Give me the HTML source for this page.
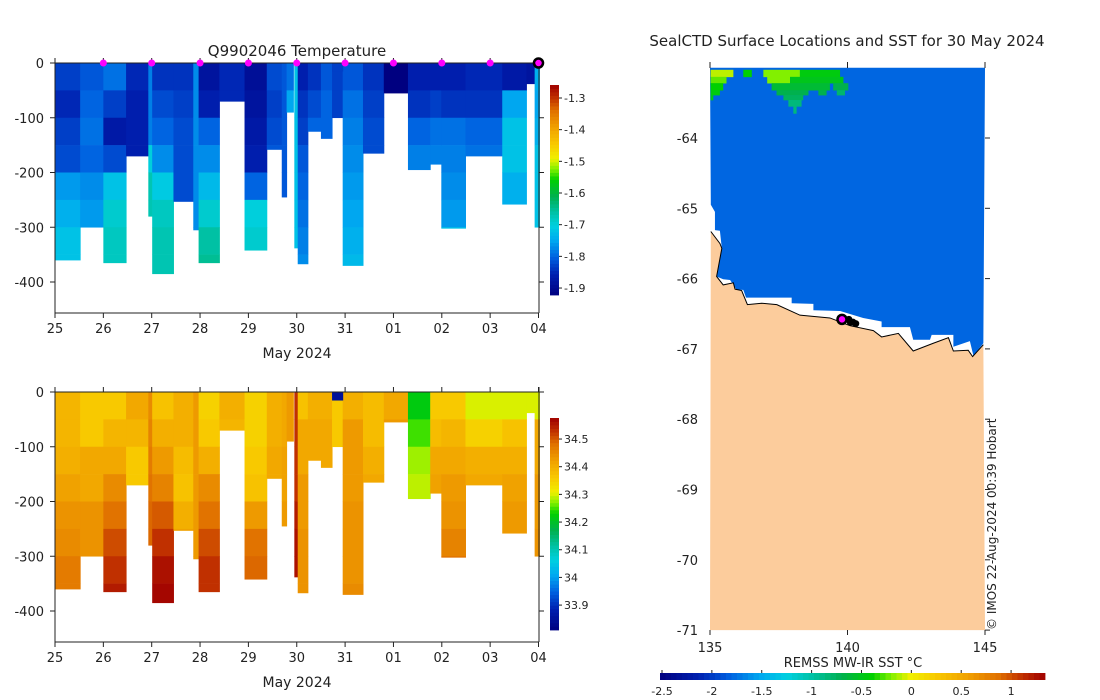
<!DOCTYPE html>
<html><head><meta charset="utf-8"><style>
body{margin:0;background:#fff}
svg{display:block;font-family:"DejaVu Sans","Liberation Sans",sans-serif;fill:#222}
text{fill:#222}
</style></head><body>
<svg id="c" width="1100" height="700" viewBox="0 0 1100 700" xmlns="http://www.w3.org/2000/svg"></svg>
<script>
// ---------- data ----------
const dayLabels=['25','26','27','28','29','30','31','01','02','03','04'];
const depthTicks=[0,-100,-200,-300,-400];
const profStart=[0,0.52,1.0,1.47,1.93,2.01,2.45,2.86,2.97,3.40,3.92,4.38,4.69,4.79,4.95,5.02,5.23,5.50,5.73,5.95,6.37,6.80,7.30,7.76,7.99,8.49,9.25,9.75,9.92,5.73];
const profEnd=[0.52,1.0,1.47,1.93,2.01,2.45,2.86,2.97,3.40,3.92,4.38,4.69,4.79,4.93,5.02,5.23,5.50,5.73,5.95,6.37,6.80,7.30,7.76,7.99,8.49,9.25,9.75,9.92,10.02,5.95];
const profDepth=[360,300,365,170,280,385,253,305,365,70,342,158,245,90,338,367,125,138,100,370,165,55,195,185,302,170,258,38,300,15];
const tempLayers=[
[-1.83,-1.85,-1.83,-1.82,-1.76,-1.74,-1.72,-1.72],
[-1.81,-1.80,-1.79,-1.80,-1.77,-1.76],
[-1.79,-1.83,-1.87,-1.82,-1.72,-1.69,-1.68,-1.68],
[-1.85,-1.86,-1.86,-1.86],
[-1.78,-1.78,-1.78,-1.70,-1.67,-1.67],
[-1.84,-1.82,-1.80,-1.77,-1.71,-1.68,-1.67,-1.67],
[-1.84,-1.83,-1.82,-1.82,-1.82,-1.82],
[-1.77,-1.77,-1.77,-1.77,-1.77,-1.77,-1.77],
[-1.88,-1.86,-1.80,-1.77,-1.73,-1.69,-1.66,-1.65],
[-1.85,-1.85],
[-1.89,-1.88,-1.87,-1.86,-1.80,-1.70,-1.69],
[-1.82,-1.83,-1.82,-1.81],
[-1.81,-1.81,-1.81,-1.81,-1.81],
[-1.79,-1.75],
[-1.72,-1.72,-1.72,-1.72,-1.72,-1.72,-1.72],
[-1.86,-1.84,-1.83,-1.81,-1.80,-1.79,-1.78,-1.77],
[-1.84,-1.82,-1.80],
[-1.81,-1.80,-1.80],
[-1.83,-1.83],
[-1.81,-1.79,-1.78,-1.77,-1.76,-1.75,-1.74,-1.73],
[-1.84,-1.83,-1.82,-1.82],
[-1.93,-1.93],
[-1.86,-1.84,-1.80,-1.78],
[-1.86,-1.83,-1.79,-1.78],
[-1.86,-1.84,-1.79,-1.78,-1.77,-1.76,-1.72],
[-1.85,-1.84,-1.80,-1.79],
[-1.87,-1.75,-1.72,-1.72,-1.74,-1.74],
[-1.88],
[-1.74,-1.75,-1.74,-1.72,-1.72,-1.72],
[-1.83]];
const salLayers=[
[34.39,34.39,34.40,34.42,34.44,34.45,34.47,34.47],
[34.36,34.36,34.41,34.41,34.44,34.44],
[34.36,34.39,34.41,34.45,34.48,34.51,34.53,34.55],
[34.41,34.39,34.36,34.36],
[34.45,34.46,34.47,34.48,34.49,34.49],
[34.37,34.40,34.43,34.46,34.50,34.53,34.56,34.57],
[34.40,34.40,34.38,34.37,34.40,34.42],
[34.43,34.43,34.43,34.43,34.43,34.43,34.43],
[34.35,34.36,34.40,34.45,34.48,34.51,34.53,34.53],
[34.40,34.39],
[34.35,34.35,34.36,34.37,34.43,34.48,34.49],
[34.40,34.40,34.41,34.41],
[34.41,34.41,34.42,34.42,34.43],
[34.43,34.43],
[34.53,34.53,34.53,34.53,34.55,34.56,34.56],
[34.37,34.41,34.41,34.43,34.43,34.44,34.44,34.44],
[34.40,34.41,34.41],
[34.40,34.41,34.41],
[34.36,34.36],
[34.40,34.43,34.43,34.43,34.44,34.44,34.44,34.45],
[34.38,34.38,34.40,34.41],
[34.41,34.43],
[34.22,34.25,34.28,34.29],
[34.36,34.38,34.41,34.42],
[34.36,34.39,34.41,34.43,34.44,34.46,34.48],
[34.30,34.35,34.40,34.41],
[34.30,34.37,34.40,34.42,34.43,34.43],
[34.30],
[34.30,34.41,34.41,34.43,34.43,34.44],
[33.85]];
const markerDays=[1,2,3,4,5,6,7,8,9];
const tempTicks=[-1.3,-1.4,-1.5,-1.6,-1.7,-1.8,-1.9];
const salTicks=[34.5,34.4,34.3,34.2,34.1,34.0,33.9];
const salTickLabels=['34.5','34.4','34.3','34.2','34.1','34','33.9'];
const sstTicks=[-2.5,-2,-1.5,-1,-0.5,0,0.5,1];
const sstTickLabels=['-2.5','-2','-1.5','-1','-0.5','0','0.5','1'];
const lonTicks=[135,140,145];
const latTicks=[-64,-65,-66,-67,-68,-69,-70,-71];
const oceanSST=-1.8;
const oceanLon=[135.03,135.18,135.18,135.36,135.43,135.24,135.48,135.73,135.97,136.21,136.31,137.97,137.97,138.76,138.76,139.73,140.57,141.24,141.24,142.27,142.39,143.0,143.06,143.85,143.85,144.45,144.58,144.94,145,135];
const oceanLat=[-64.95,-65.05,-65.31,-65.32,-65.57,-65.97,-66.01,-66.02,-66.16,-66.16,-66.27,-66.27,-66.35,-66.36,-66.45,-66.46,-66.56,-66.61,-66.69,-66.69,-66.87,-66.87,-66.80,-66.80,-66.97,-66.89,-67.10,-66.92,-63.0,-63.0];
const coastLon=[135.03,135.36,135.43,135.24,135.48,135.85,135.91,136.15,136.36,136.88,137.43,138.27,139.36,140.09,140.94,141.24,141.85,142.39,143.12,143.67,143.85,144.39,144.55,144.94];
const coastLat=[-65.33,-65.50,-65.57,-65.97,-66.09,-66.06,-66.15,-66.17,-66.37,-66.35,-66.37,-66.52,-66.56,-66.67,-66.74,-66.83,-66.78,-67.03,-66.92,-66.84,-67.03,-67.02,-67.11,-66.94];
const iceLon0=[135.02,136.21,136.94,138.27,135.02,137.08,137.91,135.02,137.24,139.48,135.02,137.42,138.94,139.61,135.02,137.67,137.85,138.03];
const iceLon1=[135.85,136.52,138.27,139.73,135.6,137.91,139.85,135.48,139.36,140.03,135.36,138.58,139.24,139.91,135.12,138.39,138.33,138.15];
const iceLat0=[-63.03,-63.03,-63.03,-63.03,-63.13,-63.13,-63.13,-63.22,-63.22,-63.22,-63.32,-63.32,-63.32,-63.32,-63.39,-63.39,-63.46,-63.55];
const iceLat1=[-63.13,-63.13,-63.13,-63.13,-63.22,-63.22,-63.22,-63.32,-63.32,-63.32,-63.39,-63.39,-63.39,-63.39,-63.46,-63.46,-63.55,-63.65];
const iceSST=[-0.1,-0.4,-0.2,-0.45,-0.25,-0.2,-0.5,-0.4,-0.6,-0.7,-0.45,-0.7,-0.7,-0.8,-0.5,-0.75,-0.85,-0.85];
const ctdLon=[140.05,140.2,140.1,140.3];
const ctdLat=[-66.58,-66.62,-66.62,-66.64];
const ctdLonLast=139.8, ctdLatLast=-66.58;

// ---------- helpers ----------
const NS='http://www.w3.org/2000/svg';
const svg=document.getElementById('c');
function mk(tag,attrs,parent){const e=document.createElementNS(NS,tag);for(const k in attrs)e.setAttribute(k,attrs[k]);(parent||svg).appendChild(e);return e;}
function txt(s,x,y,size,anchor,parent){const t=mk('text',{x:x,y:y,'font-size':size,'text-anchor':anchor||'middle'},parent);t.textContent=s;return t;}
const stops=[[0,[0,0,128]],[0.1,[0,32,176]],[0.18,[0,96,224]],[0.26,[0,168,240]],[0.33,[0,208,224]],[0.40,[0,192,160]],[0.47,[0,176,80]],[0.55,[0,208,0]],[0.60,[128,240,0]],[0.65,[240,240,0]],[0.72,[248,200,0]],[0.80,[240,160,0]],[0.88,[224,112,0]],[0.94,[192,48,0]],[1,[160,0,0]]];
function cmap(t){t=Math.max(0,Math.min(1,t));for(let i=1;i<stops.length;i++){if(t<=stops[i][0]){const a=stops[i-1],b=stops[i];const f=(t-a[0])/(b[0]-a[0]);const c=a[1].map((v,j)=>Math.round(v+(b[1][j]-v)*f));return 'rgb('+c.join(',')+')';}}return 'rgb(160,0,0)';}
const xDay=d=>55+d*48.35;

function section(name,y0,layers,vmin,vmax,markers){
  const g=mk('g',{});
  
  
  const yD=d=>y0+d*0.5475;
  for(let p=0;p<profStart.length;p++){
    const L=layers[p];
    for(let i=0;i<L.length;i++){
      const top=i*50, bot=Math.min((i+1)*50,profDepth[p]);
      if(bot<=top)continue;
      const r=mk('rect',{x:xDay(profStart[p]),y:yD(top),width:xDay(profEnd[p])-xDay(profStart[p])+0.5,height:yD(bot)-yD(top)+0.3,fill:cmap((L[i]-vmin)/(vmax-vmin))},g);
      
      
    }
  }
  const bottom=y0+250;
  const ax=mk('g',{stroke:'#222','stroke-width':1,fill:'none'});
  
  
  mk('line',{x1:55,y1:y0-5,x2:55,y2:bottom},ax);
  mk('line',{x1:55,y1:bottom,x2:539,y2:bottom},ax);
  mk('line',{x1:539,y1:y0-5,x2:539,y2:bottom},ax);
  mk('line',{x1:55,y1:y0,x2:539,y2:y0},ax);
  dayLabels.forEach((l,i)=>{mk('line',{x1:xDay(i),y1:bottom,x2:xDay(i),y2:bottom+5},ax);mk('line',{x1:xDay(i),y1:y0-5,x2:xDay(i),y2:y0},ax);
    const t=txt(l,xDay(i),bottom+20,13);});
  depthTicks.forEach(v=>{const y=yD(-v);mk('line',{x1:50,y1:y,x2:55,y2:y},ax);mk('line',{x1:539,y1:y,x2:544,y2:y},ax);
    const t=txt(String(v),44,y+5,13,'end');});
  const xl=txt('May 2024',297,bottom+45,14);
  if(markers){
    markerDays.forEach(d=>{const c=mk('circle',{cx:xDay(d),cy:y0,r:3.5,fill:'#ff00ff'});});
    const c=mk('circle',{cx:xDay(10),cy:y0,r:4.5,fill:'#ff00ff',stroke:'#000','stroke-width':2.5});
    
  }
}
function vbar(name,x,yTop,yBot,vmin,vmax,ticks,labels){
  const g=mk('g',{});
  
  
  const n=60,h=(yBot-yTop)/n;
  for(let i=0;i<n;i++){mk('rect',{x:x,y:yBot-(i+1)*h,width:9,height:h+0.4,fill:cmap((i+0.5)/n)},g);}
  const yv=v=>yBot-(v-vmin)/(vmax-vmin)*(yBot-yTop);
  ticks.forEach((v,i)=>{const y=yv(v);mk('line',{x1:x+9,y1:y,x2:x+12,y2:y,stroke:'#222'},g);
    const t=txt(labels[i],x+14,y+4,11,'start',g);});
}

// ---------- left panels ----------
const tt=txt('Q9902046  Temperature',297,56,15);

section('temperature-section',63,tempLayers,-1.922,-1.259,true);
vbar('temperature-colorbar',550,85,295,-1.922,-1.259,tempTicks,tempTicks.map(String));
section('salinity-section',392,salLayers,33.81,34.576,false);
vbar('salinity-colorbar',550,418,630,33.81,34.576,salTicks,salTickLabels);

// ---------- map ----------
const lonX=l=>710+(l-135)*27.5, latY=l=>138-(l+64)*70.3;
const sMin=-2.52,sMax=1.34;
const mapG=mk('g',{});


const oc=mk('polygon',{points:oceanLon.map((l,i)=>lonX(l)+','+latY(oceanLat[i])).join(' '),fill:cmap((oceanSST-sMin)/(sMax-sMin))},mapG);

iceSST.forEach((v,i)=>{const r=mk('rect',{x:lonX(iceLon0[i]),y:latY(iceLat0[i]),width:lonX(iceLon1[i])-lonX(iceLon0[i]),height:latY(iceLat1[i])-latY(iceLat0[i])+0.3,fill:cmap((v-sMin)/(sMax-sMin))},mapG);
  });
const landPts=coastLon.map((l,i)=>lonX(l)+','+latY(coastLat[i]));
const land=mk('polygon',{points:landPts.join(' ')+' '+lonX(145)+','+latY(-71)+' '+lonX(135)+','+latY(-71),fill:'#fccc9c'},mapG);

const coast=mk('polyline',{points:landPts.join(' '),fill:'none',stroke:'#000','stroke-width':1},mapG);

ctdLon.forEach((l,i)=>{const c=mk('circle',{cx:lonX(l),cy:latY(ctdLat[i]),r:3.5,fill:'#000'},mapG);});
const lc=mk('circle',{cx:lonX(ctdLonLast),cy:latY(ctdLatLast),r:4.5,fill:'#ff00ff',stroke:'#000','stroke-width':2.5},mapG);

const ma=mk('g',{stroke:'#222',fill:'none'});

lonTicks.forEach(l=>{mk('line',{x1:lonX(l),y1:630,x2:lonX(l),y2:635},ma);mk('line',{x1:lonX(l),y1:62,x2:lonX(l),y2:68},ma);
  const t=txt(String(l),lonX(l),652,13);});
latTicks.forEach(l=>{mk('line',{x1:985,y1:latY(l),x2:990,y2:latY(l)},ma);
  const t=txt(String(l),698,latY(l)+5,13,'end');});
const mt=txt('SealCTD Surface Locations and SST for 30 May 2024',847,46,15);

const cp=txt('© IMOS 22-Aug-2024 00:39 Hobart',0,0,12,'start');
cp.setAttribute('transform','translate(996,630) rotate(-90)');


// SST colorbar
const sb=mk('g',{});

const sx=v=>660+(v-sMin)/(sMax-sMin)*385;
for(let i=0;i<70;i++){mk('rect',{x:660+i*385/70,y:673,width:385/70+0.4,height:7,fill:cmap((i+0.5)/70)},sb);}
sstTicks.forEach((v,i)=>{mk('line',{x1:sx(v),y1:670,x2:sx(v),y2:673,stroke:'#222'},sb);
  const t=txt(sstTickLabels[i],sx(v),695,11,'middle',sb);});
const sl=txt('REMSS MW-IR SST °C',853,667,13);

</script>
</body></html>
